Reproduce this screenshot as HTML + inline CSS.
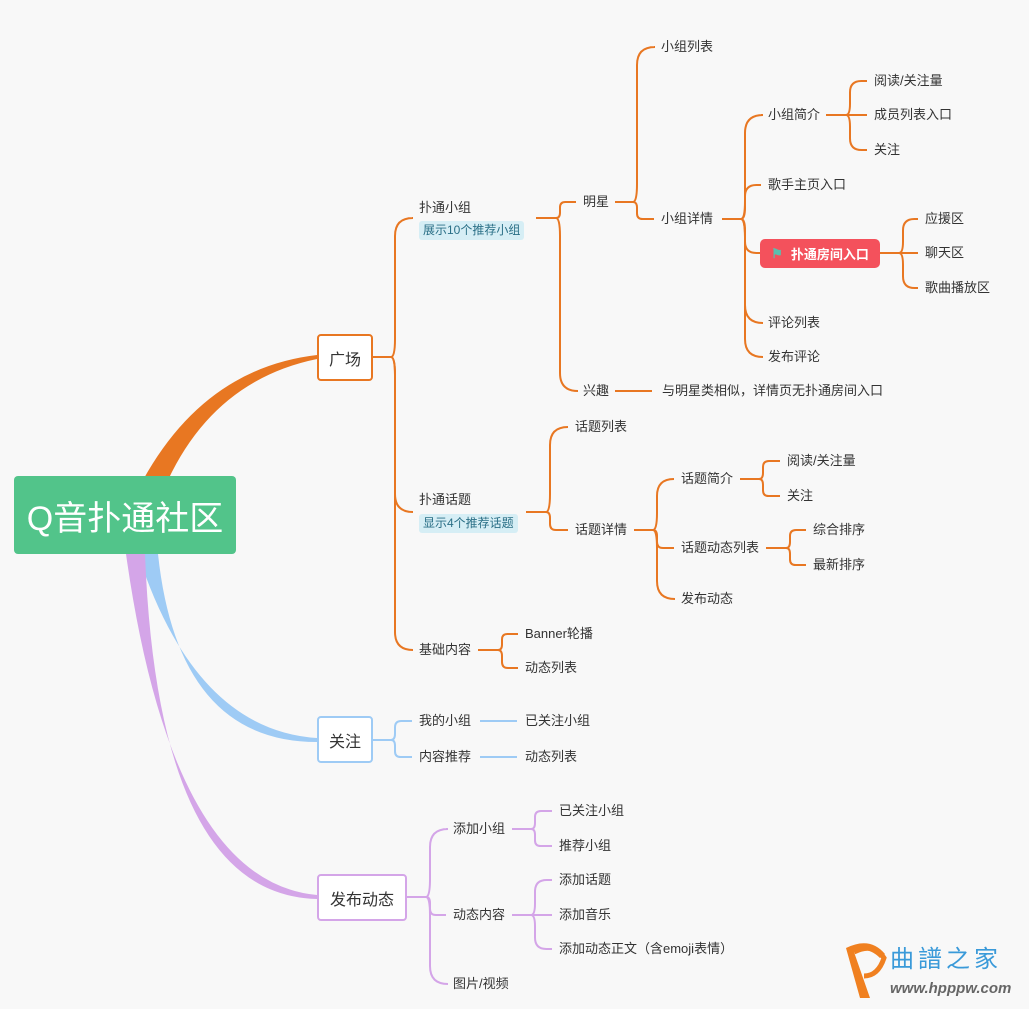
<!DOCTYPE html>
<html><head><meta charset="utf-8">
<style>
body{margin:0;width:1029px;height:1009px;background:#f8f8f8;position:relative;overflow:hidden;font-family:"Liberation Sans","Noto Sans CJK SC",sans-serif;}
.t{position:absolute;font-size:13px;color:#333;white-space:nowrap;line-height:18px;}
.box{position:absolute;background:#fff;border-radius:4px;box-sizing:border-box;display:flex;align-items:center;justify-content:center;font-size:16px;color:#333;}
.tag{position:absolute;background:#d6eef5;color:#2a6f86;font-size:12px;border-radius:3px;padding:0 4px;line-height:19px;white-space:nowrap;}
svg{position:absolute;left:0;top:0;}
</style></head><body>
<svg id="s" width="1029" height="1009">
<path d="M143,480 Q205,368 317,355 L317,359 Q215,380 168,480 Z" fill="#e87722"/>
<path d="M138,554 Q195,730 317,738 L317,742 Q178,742 158,554 Z" fill="#9ecbf5"/>
<path d="M126,554 Q172,882 317,895 L317,899 Q158,895 145,554 Z" fill="#d4a5e8"/>
<g id="g" fill="none" stroke-width="2"></g>
</svg>
<div class="box" style="left:14px;top:476px;width:222px;height:78px;background:#52c48a;color:#fff;font-size:34px;border-radius:4px;">Q音扑通社区</div>
<div class="box" style="left:317px;top:334px;width:56px;height:47px;border:2px solid #e87722;">广场</div>
<div class="box" style="left:317px;top:716px;width:56px;height:47px;border:2px solid #9ecbf5;">关注</div>
<div class="box" style="left:317px;top:874px;width:90px;height:47px;border:2px solid #d4a5e8;">发布动态</div>
<div class="box" style="left:760px;top:239px;width:120px;height:29px;background:#f4515c;color:#fff;font-size:13px;font-weight:bold;border-radius:5px;"><span style="color:#5bbfae;margin-right:8px">⚑</span>扑通房间入口</div>

<div class="t" style="left:419px;top:199px">扑通小组</div>
<div class="tag" style="left:419px;top:221px">展示10个推荐小组</div>
<div class="t" style="left:583px;top:193px">明星</div>
<div class="t" style="left:661px;top:38px">小组列表</div>
<div class="t" style="left:661px;top:210px">小组详情</div>
<div class="t" style="left:768px;top:106px">小组简介</div>
<div class="t" style="left:874px;top:72px">阅读/关注量</div>
<div class="t" style="left:874px;top:106px">成员列表入口</div>
<div class="t" style="left:874px;top:141px">关注</div>
<div class="t" style="left:768px;top:176px">歌手主页入口</div>
<div class="t" style="left:925px;top:210px">应援区</div>
<div class="t" style="left:925px;top:244px">聊天区</div>
<div class="t" style="left:925px;top:279px">歌曲播放区</div>
<div class="t" style="left:768px;top:314px">评论列表</div>
<div class="t" style="left:768px;top:348px">发布评论</div>
<div class="t" style="left:583px;top:382px">兴趣</div>
<div class="t" style="left:662px;top:382px">与明星类相似，详情页无扑通房间入口</div>
<div class="t" style="left:419px;top:491px">扑通话题</div>
<div class="tag" style="left:419px;top:514px">显示4个推荐话题</div>
<div class="t" style="left:575px;top:418px">话题列表</div>
<div class="t" style="left:575px;top:521px">话题详情</div>
<div class="t" style="left:681px;top:470px">话题简介</div>
<div class="t" style="left:787px;top:452px">阅读/关注量</div>
<div class="t" style="left:787px;top:487px">关注</div>
<div class="t" style="left:681px;top:539px">话题动态列表</div>
<div class="t" style="left:813px;top:521px">综合排序</div>
<div class="t" style="left:813px;top:556px">最新排序</div>
<div class="t" style="left:681px;top:590px">发布动态</div>
<div class="t" style="left:419px;top:641px">基础内容</div>
<div class="t" style="left:525px;top:625px">Banner轮播</div>
<div class="t" style="left:525px;top:659px">动态列表</div>
<div class="t" style="left:419px;top:712px">我的小组</div>
<div class="t" style="left:419px;top:748px">内容推荐</div>
<div class="t" style="left:525px;top:712px">已关注小组</div>
<div class="t" style="left:525px;top:748px">动态列表</div>
<div class="t" style="left:453px;top:820px">添加小组</div>
<div class="t" style="left:453px;top:906px">动态内容</div>
<div class="t" style="left:453px;top:975px">图片/视频</div>
<div class="t" style="left:559px;top:802px">已关注小组</div>
<div class="t" style="left:559px;top:837px">推荐小组</div>
<div class="t" style="left:559px;top:871px">添加话题</div>
<div class="t" style="left:559px;top:906px">添加音乐</div>
<div class="t" style="left:559px;top:940px">添加动态正文（含emoji表情）</div>

<svg width="60" height="70" style="left:840px;top:936px">
<path d="M6,12 Q30,0 45,18 L40,22 Q28,10 14,16 L30,62 L20,62 Z" fill="#f08020"/>
<path d="M14,16 Q34,6 44,22 Q38,40 24,40" fill="none" stroke="#f08020" stroke-width="5"/>
</svg>
<div class="t" style="left:890px;top:946px;font-size:24px;line-height:28px;color:#3a9ad9;letter-spacing:4px">曲譜之家</div>
<div class="t" style="left:890px;top:980px;font-size:15px;font-weight:bold;font-style:italic;color:#666">www.hpppw.com</div>

<script>
var g=document.getElementById('g'),O='#e87722',B='#9ecbf5',P='#d4a5e8';
function b(px,py,jx,kids,c){kids.forEach(function(k){var cx=k[0],cy=k[1],d,r=18,dy=cy-py;
if(Math.abs(dy)<2){d='M'+px+','+py+' H'+cx;}
else{var s=dy>0?1:-1,rr=Math.min(r,Math.abs(dy)/3);d='M'+px+','+py+' H'+(jx-4)+' Q'+jx+','+py+' '+jx+','+(py+s*rr)+' V'+(cy-s*rr)+' Q'+jx+','+cy+' '+(jx+rr)+','+cy+' H'+cx;}
var p=document.createElementNS('http://www.w3.org/2000/svg','path');p.setAttribute('d',d);p.setAttribute('stroke',c);g.appendChild(p);});}
b(373,357,395,[[412,218],[412,512],[412,650]],O);
b(536,218,560,[[576,202],[576,391]],O);
b(615,202,637,[[654,47],[654,219]],O);
b(722,219,745,[[761,115],[761,185],[760,253],[761,323],[761,357]],O);
b(826,115,850,[[867,81],[867,115],[867,150]],O);
b(880,253,903,[[918,219],[918,253],[918,288]],O);
b(615,391,640,[[652,391]],O);
b(526,512,550,[[568,427],[568,530]],O);
b(634,530,657,[[674,479],[674,548],[674,599]],O);
b(740,479,763,[[780,461],[780,496]],O);
b(766,548,790,[[806,530],[806,565]],O);
b(478,650,502,[[518,634],[518,668]],O);
b(373,740,395,[[412,721],[412,757]],B);
b(480,721,500,[[517,721]],B);b(480,757,500,[[517,757]],B);
b(407,897,430,[[446,829],[446,915],[446,984]],P);
b(512,829,535,[[552,811],[552,846]],P);
b(512,915,535,[[552,880],[552,915],[552,949]],P);
</script>
</body></html>
